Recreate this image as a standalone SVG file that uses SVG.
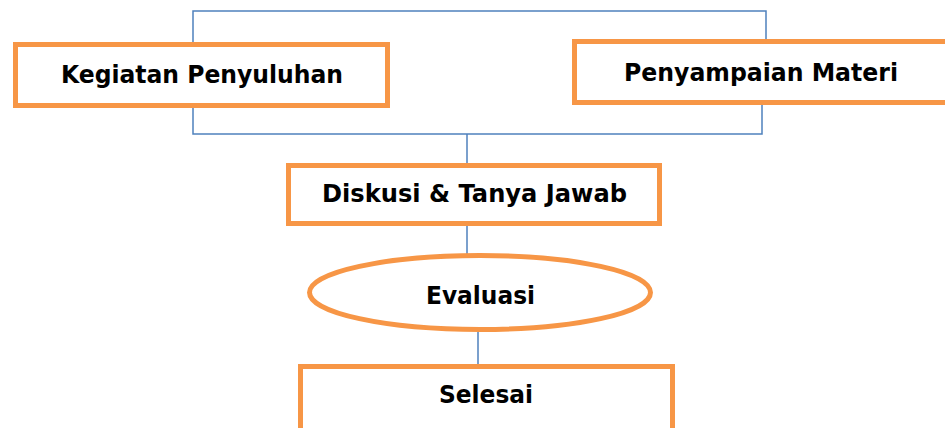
<svg xmlns="http://www.w3.org/2000/svg" width="945" height="428" viewBox="0 0 945 428">
<style>
.box{fill:#fff;stroke:#F79646;stroke-width:5}
.lbl{font-family:"DejaVu Sans","Liberation Sans",sans-serif;font-weight:bold;font-size:25px;fill:#000}
.con{fill:none;stroke:#4F81BD;stroke-width:1.5}
</style>
<rect width="945" height="428" fill="#fff"/>
<g id="connectors">
<polyline class="con" points="193,42 193,11 766,11 766,40"/>
<polyline class="con" points="193,108 193,134 762,134 762,104"/>
<line class="con" x1="467" y1="134" x2="467" y2="163"/>
<line class="con" x1="467" y1="226" x2="467" y2="254"/>
<line class="con" x1="478" y1="332" x2="478" y2="364"/>
</g>
<g id="kegiatan">
<rect class="box" x="15.5" y="44.5" width="372" height="61"/>
<text class="lbl" x="61" y="83" textLength="282" lengthAdjust="spacingAndGlyphs">Kegiatan Penyuluhan</text>
</g>
<g id="penyampaian">
<rect class="box" x="574.5" y="41.5" width="380" height="61"/>
<text class="lbl" x="624" y="81" textLength="274" lengthAdjust="spacingAndGlyphs">Penyampaian Materi</text>
</g>
<g id="diskusi">
<rect class="box" x="288.5" y="165.5" width="371" height="58"/>
<text class="lbl" x="322" y="202" textLength="305" lengthAdjust="spacingAndGlyphs">Diskusi &amp; Tanya Jawab</text>
</g>
<g id="evaluasi">
<ellipse class="box" cx="480" cy="292.5" rx="170.5" ry="37"/>
<text class="lbl" x="426" y="304" textLength="109" lengthAdjust="spacingAndGlyphs">Evaluasi</text>
</g>
<g id="selesai">
<rect class="box" x="300.5" y="366.5" width="372" height="70"/>
<text class="lbl" x="439" y="403" textLength="94" lengthAdjust="spacingAndGlyphs">Selesai</text>
</g>
</svg>
